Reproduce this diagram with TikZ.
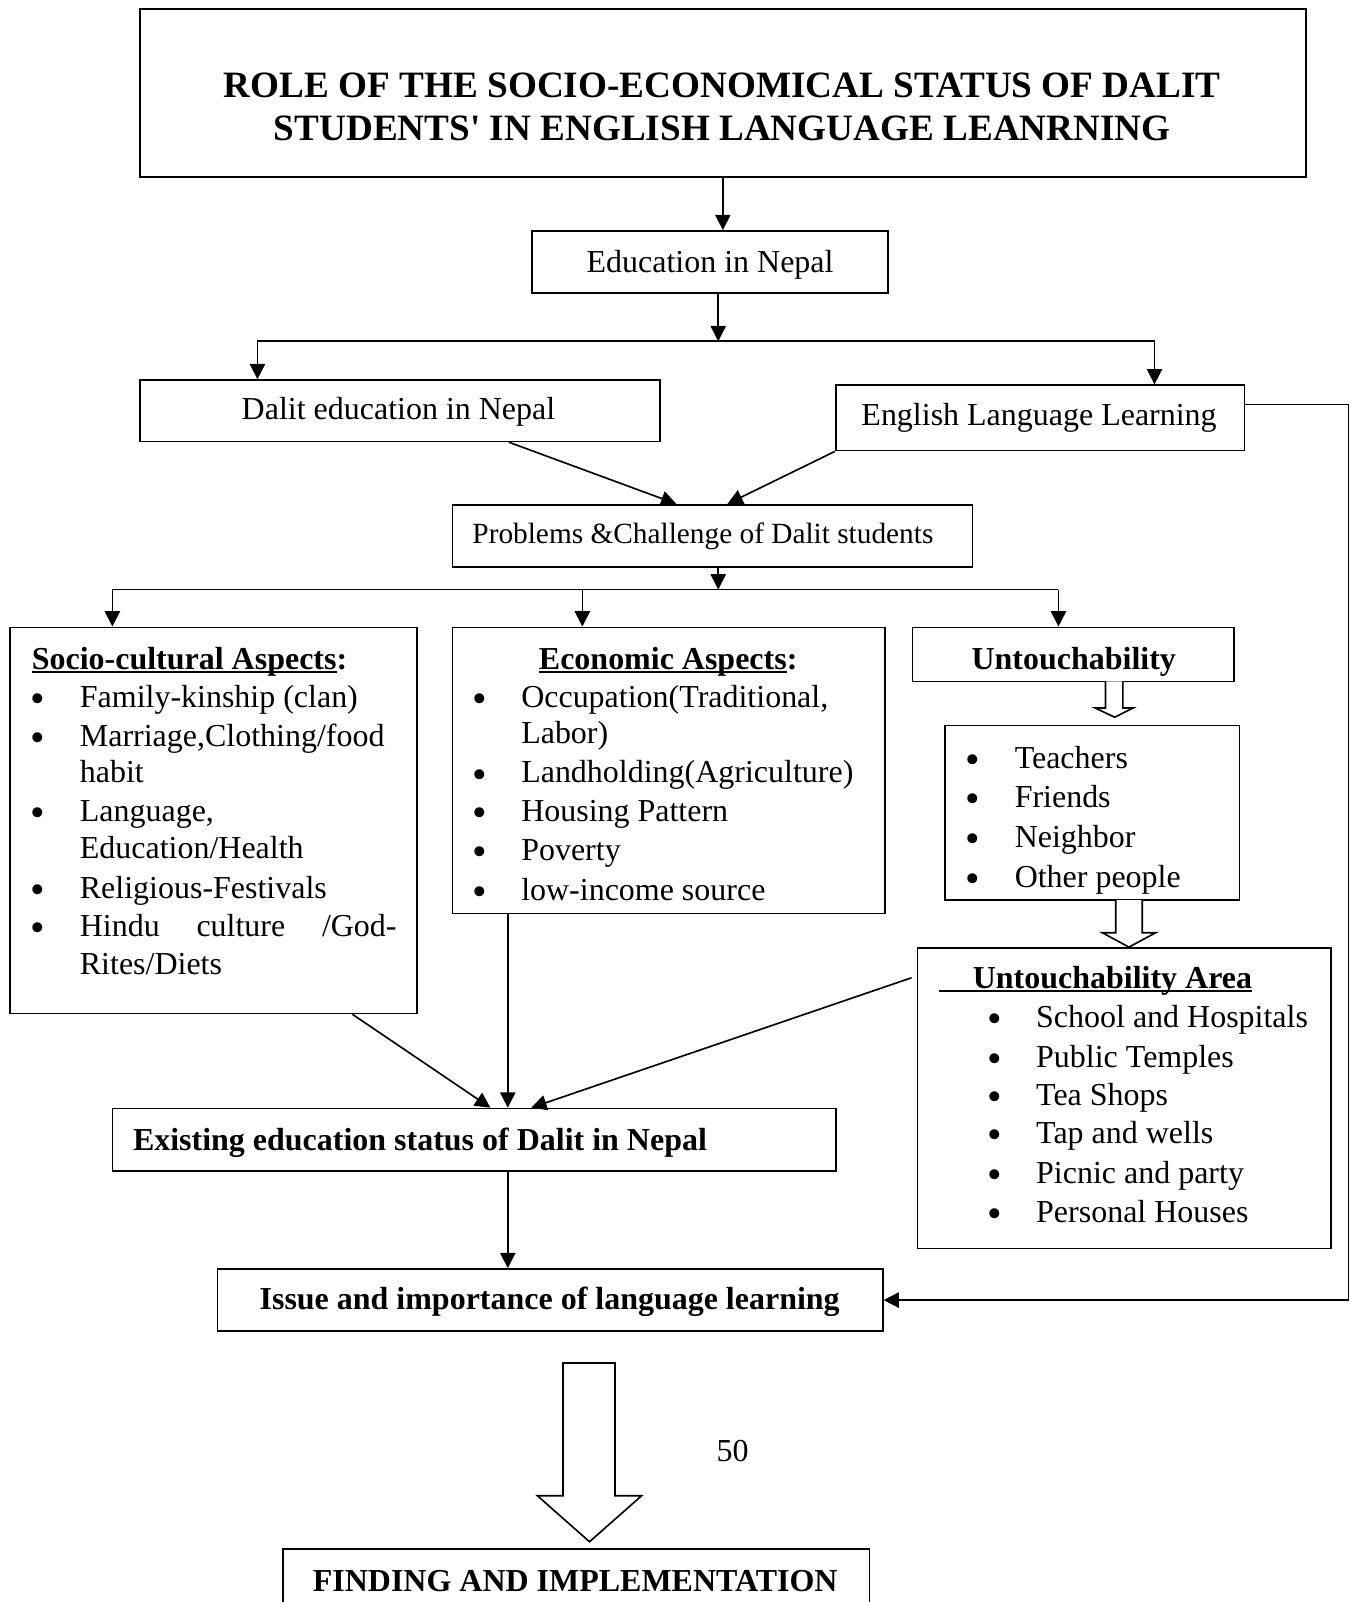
\documentclass[tikz,border=0pt]{standalone}
\usepackage{fontspec}
\usepackage{graphicx}
\setmainfont{Liberation Serif}
\usetikzlibrary{arrows.meta,fit,calc}
\newsavebox\ulbox
\newcommand\ulx[1]{\sbox\ulbox{#1}\rlap{\rule[-3.5pt]{\wd\ulbox}{2.2pt}}\usebox\ulbox}
\newcommand\itm[1]{\makebox[48pt][l]{\raisebox{-5pt}{\scalebox{1.3}{\textbullet}}}#1}
\begin{document}
\begin{tikzpicture}[x=1pt,y=-1pt,
  box/.style={draw,line width=1.6pt,inner sep=0pt},
  ln/.style={line width=1.6pt},
  arr/.style={line width=1.6pt,-{Triangle[length=15pt,width=15pt]}},
  t12/.style={inner sep=0pt,text height=20.7pt,text depth=0pt,font=\fontsize{31.3}{37}\selectfont},
  t12b/.style={inner sep=0pt,text height=20.7pt,text depth=0pt,font=\fontsize{31.3}{37}\selectfont\bfseries},
  t11/.style={inner sep=0pt,text height=19pt,text depth=0pt,font=\fontsize{28.7}{34}\selectfont},
  t14b/.style={inner sep=0pt,text height=24pt,text depth=0pt,font=\fontsize{36.4}{43}\selectfont\bfseries},
  li/.style={t12,anchor=west}]
\useasboundingbox (0,0) rectangle (1322,1568);
\clip (0,0) rectangle (1322,1568);
% boxes
\node[box,fit={(137,9)(1278,173)}] (title) {};
\node[box,fit={(521,226)(869,287)}] (edu) {};
\node[box,fit={(137,372)(646,432)}] (dalit) {};
\node[box,fit={(818,377)(1218,441)}] (eng) {};
\node[box,fit={(443,494)(952,555)}] (prob) {};
\node[box,fit={(10,614)(408,992)}] (socio) {};
\node[box,fit={(443,614)(866,894)}] (econ) {};
\node[box,fit={(893,614)(1208,667)}] (untouch) {};
\node[box,fit={(925,710)(1213,881)}] (teach) {};
\node[box,fit={(898,928)(1303,1222)}] (area) {};
\node[box,fit={(110,1085)(818,1146)}] (exist) {};
\node[box,fit={(213,1242)(864,1303)}] (issue) {};
\node[box,fit={(277,1516)(851,1640)}] (find) {};
% texts
\node[t14b] (title1) at (707,83) {ROLE OF THE SOCIO-ECONOMICAL STATUS OF DALIT};
\node[t14b] (title2) at (707,126) {STUDENTS\textquotesingle{} IN ENGLISH LANGUAGE LEANRNING};
\node[t12] (edut) at (695,256) {Education in Nepal};
\node[t12] (dalitt) at (390,400) {Dalit education in Nepal};
\node[t12] (engt) at (1017,406) {English Language Learning};
\node[t11] (probt) at (688,522) {Problems \&Challenge of Dalit students};
% socio
\node[li] (sh) at (31,645) {\ulx{\bfseries Socio-cultural Aspects}\textbf{:}};
\node[li] (s1) at (30,682) {\itm{Family-kinship (clan)}};
\node[li] (s2) at (30,720) {\itm{Marriage,Clothing/food}};
\node[li] (s3) at (78,756) {habit};
\node[li] (s4) at (30,794) {\itm{Language,}};
\node[li] (s5) at (78,830) {Education/Health};
\node[li] (s6) at (30,869) {\itm{Religious-Festivals}};
\node[li] (s7) at (30,906) {\itm{\makebox[310pt][s]{Hindu\hfill culture\hfill /God-}}};
\node[li] (s8) at (78,943) {Rites/Diets};
% econ
\node[t12] (eh) at (654,645) {\ulx{\bfseries Economic Aspects}\textbf{:}};
\node[li] (e1) at (462,682) {\itm{Occupation(Traditional,}};
\node[li] (e2) at (510,717) {Labor)};
\node[li] (e3) at (462,756) {\itm{Landholding(Agriculture)}};
\node[li] (e4) at (462,794) {\itm{Housing Pattern}};
\node[li] (e5) at (462,832) {\itm{Poverty}};
\node[li] (e6) at (462,871) {\itm{low-income source}};
% untouchability
\node[t12b] (ut) at (1051,645) {Untouchability};
\node[li] (u1) at (945,742) {\itm{Teachers}};
\node[li] (u2) at (945,780) {\itm{Friends}};
\node[li] (u3) at (945,819) {\itm{Neighbor}};
\node[li] (u4) at (945,858) {\itm{Other people}};
\node[li] (ah) at (919,957) {\ulx{\hspace{33pt}\bfseries Untouchability Area}};
\node[li] (a1) at (966,995) {\itm{School and Hospitals}};
\node[li] (a2) at (966,1034) {\itm{Public Temples}};
\node[li] (a3) at (966,1072) {\itm{Tea Shops}};
\node[li] (a4) at (966,1109) {\itm{Tap and wells}};
\node[li] (a5) at (966,1148) {\itm{Picnic and party}};
\node[li] (a6) at (966,1186) {\itm{Personal Houses}};
% bottom
\node[t12b,anchor=west] (existt) at (130,1116) {Existing education status of Dalit in Nepal};
\node[t12b] (issuet) at (538,1271) {Issue and importance of language learning};
\node[t12] (pnum) at (717,1420) {50};
\node[t12b] (findt) at (563,1547) {FINDING AND IMPLEMENTATION};
% connectors
\draw[arr] (title.south) -- (title.south |- edu.north);
\coordinate (j1) at (703,334);
\coordinate (jl) at (252,334);
\coordinate (jr) at (1130,334);
\draw[arr] (edu.south -| j1) -- (j1);
\draw[ln] (jl) -- (jr);
\draw[arr] (jl) -- (jl |- dalit.north);
\draw[arr] (jr) -- (jr |- eng.north);
\draw[arr] ([xshift=106.5pt]dalit.south) -- ([xshift=-35.5pt]prob.north);
\draw[arr] (eng.south west) -- ([xshift=14.5pt]prob.north);
\coordinate (j2) at (703,577);
\coordinate (k1) at (110,577);
\coordinate (k2) at (570,577);
\coordinate (k3) at (1036,577);
\draw[arr] (prob.south -| j2) -- (j2);
\draw[ln] (k1) -- (k3);
\draw[arr] (k1) -- (k1 |- socio.north);
\draw[arr] (k2) -- (k2 |- econ.north);
\draw[arr] (k3) -- (k3 |- untouch.north);
% block arrows
\draw[ln,fill=white] (1082,667) -- (1082,693) -- (1072,693) -- (1091,702) -- (1109,693) -- (1099,693) -- (1099,667);
\draw[ln,fill=white] (1092,881) -- (1092,913) -- (1079,913) -- (1105,927) -- (1131,913) -- (1118,913) -- (1118,881);
\draw[ln] (551,1334) -- (602,1334) -- (602,1464) -- (628,1464) -- (577,1509) -- (526,1464) -- (551,1464) -- cycle;
% to existing
\coordinate (ev) at (497,0);
\draw[arr] ([xshift=136pt]socio.south) -- ([xshift=16pt]exist.north);
\draw[arr] (econ.south -| ev) -- (exist.north -| ev);
\draw[arr] ([xshift=-5pt,yshift=118pt]area.west) -- ([xshift=56pt]exist.north);
\draw[arr] (exist.south -| ev) -- (issue.north -| ev);
% right loop
\coordinate (rc) at (1320,396);
\draw[arr] (eng.east |- rc) -- (rc) -- (rc |- issue.east) -- (issue.east);
\end{tikzpicture}
\end{document}
